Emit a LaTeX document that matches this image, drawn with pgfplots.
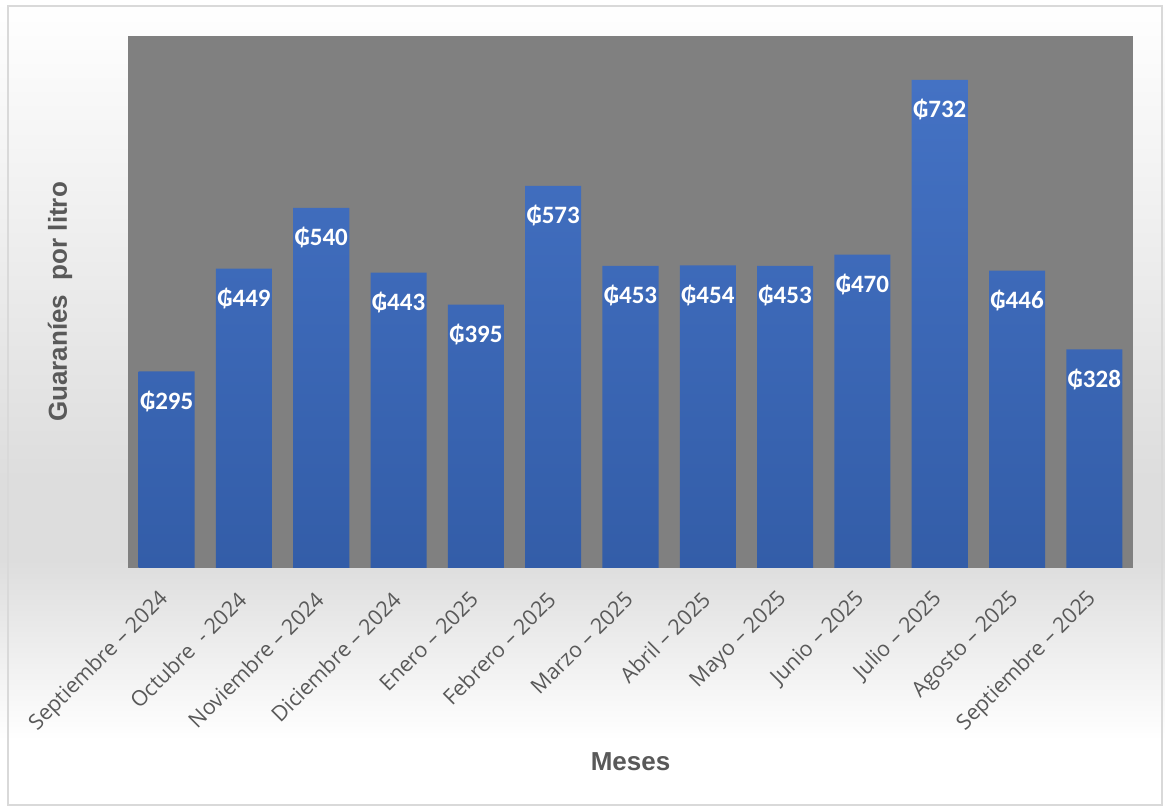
\documentclass[border=0pt]{standalone}
\usepackage{pgfplots}
\pgfplotsset{compat=1.18}
\usepackage{fontspec}
\setmainfont{Open Sans}
\newfontfamily\labfont{Carlito}
\newfontfamily\titfont{Liberation Sans}
\definecolor{plotgray}{HTML}{808080}
\definecolor{bartop}{HTML}{4472C4}
\definecolor{barbot}{HTML}{335DA8}
\definecolor{txtgray}{HTML}{595959}
\definecolor{bgmid}{HTML}{DDDDDD}
\definecolor{framec}{HTML}{D9D9D9}
\begin{document}
\begin{tikzpicture}[x=0.5pt,y=0.5pt]
\shade[top color=white, bottom color=bgmid] (0,805) rectangle (1165,325);
\fill[bgmid] (0,325) rectangle (1165,245);
\shade[top color=bgmid, bottom color=white] (0,245) rectangle (1165,65);
\fill[white] (0,65) rectangle (1165,0);
\draw[framec, line width=1pt] (8,799) rectangle (1162,0);
\begin{axis}[
  at={(64pt,118.5pt)}, anchor=south west,
  scale only axis, width=502.5pt, height=266pt,
  xmin=-0.5, xmax=12.5, ymin=0, ymax=798,
  axis background/.style={fill=plotgray},
  axis line style={draw=none},
  ytick=\empty,
  xtick={0,...,12},
  major tick length=0pt,
  /pgf/number format/assume math mode=true,
  xticklabels={Septiembre – 2024, Octubre \ - 2024, Noviembre – 2024, Diciembre – 2024, Enero – 2025, Febrero – 2025, Marzo – 2025, Abril – 2025, Mayo – 2025, Junio – 2025, Julio – 2025, Agosto – 2025, Septiembre – 2025},
  xticklabel style={rotate=45, anchor=east, font=\fontsize{10.7}{12}\selectfont, text=txtgray, inner sep=1pt, xshift=-9.2pt, yshift=-9.2pt},
  xlabel={Meses},
  ylabel={Guaraníes \ por litro},
  xlabel style={at={(axis description cs:0.5,0)}, anchor=center, yshift=-97pt, font=\titfont\bfseries\fontsize{13}{15}\selectfont, text=txtgray},
  ylabel style={at={(axis description cs:0,0.5)}, anchor=center, xshift=0pt, yshift=34pt, font=\titfont\bfseries\fontsize{13}{15}\selectfont, text=txtgray},
  nodes near coords={₲\pgfmathprintnumber{\pgfplotspointmeta}},
  every node near coord/.append style={text=white, anchor=base, yshift=-19pt, font=\labfont\bfseries\fontsize{12.5}{14}\selectfont},
]
\addplot[ybar, bar width=0.725, draw=none, top color=bartop, bottom color=barbot] coordinates {
(0,295) (1,449) (2,540) (3,443) (4,395) (5,573) (6,453) (7,454) (8,453) (9,470) (10,732) (11,446) (12,328)
};
\end{axis}
\end{tikzpicture}
\end{document}
